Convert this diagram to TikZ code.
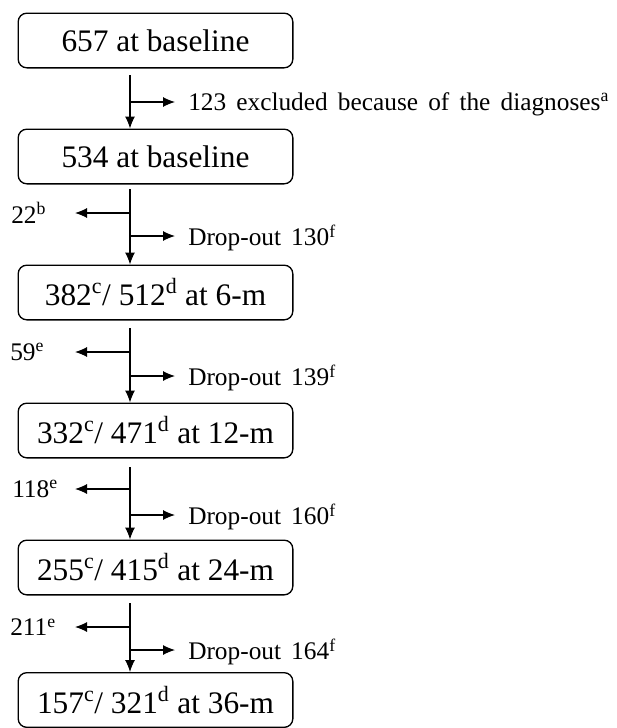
\documentclass[tikz,border=0pt]{standalone}
\usepackage{fontspec}
\setmainfont{Liberation Serif}
\usetikzlibrary{arrows.meta}

\newcommand{\labelfont}{\fontsize{19}{23}\selectfont\spaceskip=0.4em\relax}

\begin{document}
\begin{tikzpicture}[x=0.75pt,y=-0.75pt,
    stagebox/.style={draw=black, line width=1pt, rounded corners=6.5pt,
      minimum width=206pt, minimum height=41pt, inner sep=0pt,
      font=\fontsize{23.5}{28}\selectfont},
    sidelabel/.style={inner sep=0pt, font=\labelfont},
    flow/.style={line width=0.8pt, -{Latex[length=9pt,width=7.5pt]}},
    side/.style={line width=0.8pt, -{Latex[length=9pt,width=7.5pt]}}]

      \useasboundingbox (0,0) rectangle (617,728);

      % stages
      \node [stagebox] (b1) at (155.5, 40.5) {657 at baseline};
      \node [stagebox] (b2) at (155.5, 156.5) {534 at baseline};
      \node [stagebox] (b3) at (155.5, 292.5)
      {382\textsuperscript{c}/ 512\textsuperscript{d} at 6-m};
      \node [stagebox] (b4) at (155.5, 430.5)
      {332\textsuperscript{c}/ 471\textsuperscript{d} at 12-m};
      \node [stagebox] (b5) at (155.5, 567.5)
      {255\textsuperscript{c}/ 415\textsuperscript{d} at 24-m};
      \node [stagebox] (b6) at (155.5, 700)
      {157\textsuperscript{c}/ 321\textsuperscript{d} at 36-m};

      % baseline -> baseline
      \coordinate (s1) at (130, 75);
      \coordinate (r1) at (130, 102);
      \node [sidelabel, anchor=west] (x1) at (188, 104)
      {123 excluded because of the diagnoses\textsuperscript{a}};
      \draw [flow] (s1) -- (s1 |- b2.north);
      \draw [side] (r1) -- ++(45, 0);

      % baseline -> 6-m
      \coordinate (s2) at (130, 189);
      \coordinate (l2) at (130, 213);
      \coordinate (r2) at (130, 236);
      \node [sidelabel, anchor=west] (e2) at (11, 213) {22\textsuperscript{b}};
      \node [sidelabel, anchor=west] (d2) at (188, 238)
      {Drop-out\ 130\textsuperscript{f}};
      \draw [flow] (s2) -- (s2 |- b3.north);
      \draw [side] (l2) -- ++(-55, 0);
      \draw [side] (r2) -- ++(45, 0);

      % 6-m -> 12-m
      \coordinate (s3) at (130, 328);
      \coordinate (l3) at (130, 352);
      \coordinate (r3) at (130, 376);
      \node [sidelabel, anchor=west] (e3) at (10, 352) {59\textsuperscript{e}};
      \node [sidelabel, anchor=west] (d3) at (188, 378)
      {Drop-out\ 139\textsuperscript{f}};
      \draw [flow] (s3) -- (s3 |- b4.north);
      \draw [side] (l3) -- ++(-55, 0);
      \draw [side] (r3) -- ++(45, 0);

      % 12-m -> 24-m
      \coordinate (s4) at (130, 467);
      \coordinate (l4) at (130, 489);
      \coordinate (r4) at (130, 515);
      \node [sidelabel, anchor=west] (e4) at (12, 489) {118\textsuperscript{e}};
      \node [sidelabel, anchor=west] (d4) at (188, 517)
      {Drop-out\ 160\textsuperscript{f}};
      \draw [flow] (s4) -- (s4 |- b5.north);
      \draw [side] (l4) -- ++(-55, 0);
      \draw [side] (r4) -- ++(45, 0);

      % 24-m -> 36-m
      \coordinate (s5) at (130, 603);
      \coordinate (l5) at (130, 627);
      \coordinate (r5) at (130, 650);
      \node [sidelabel, anchor=west] (e5) at (10, 627) {211\textsuperscript{e}};
      \node [sidelabel, anchor=west] (d5) at (188, 652)
      {Drop-out\ 164\textsuperscript{f}};
      \draw [flow] (s5) -- (s5 |- b6.north);
      \draw [side] (l5) -- ++(-55, 0);
      \draw [side] (r5) -- ++(45, 0);

\end{tikzpicture}
\end{document}
